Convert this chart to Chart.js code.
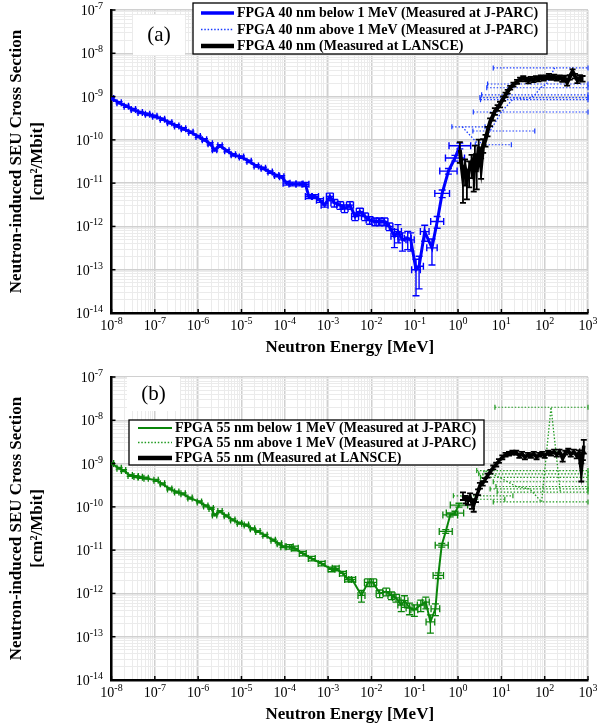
<!DOCTYPE html>
<html lang="en">
<head>
<meta charset="UTF-8" />
<title>Neutron-induced SEU Cross Section</title>
<script src="https://cdn.jsdelivr.net/npm/chart.js"></script>
<style>
  body { margin: 0; background: #fff; }
  .panel { width: 597px; height: 364px; }
</style>
</head>
<body>
<div class="panel"><canvas id="chartA" width="597" height="364"></canvas></div>
<div class="panel"><canvas id="chartB" width="597" height="364"></canvas></div>
<script>
// ---- axis text ----
const xTickExps = [-8, -7, -6, -5, -4, -3, -2, -1, 0, 1, 2, 3];
const yTickExps = [-14, -13, -12, -11, -10, -9, -8, -7];
const yTitle = ["Neutron-induced SEU Cross Section", "[cm\u00b2/Mbit]"];
const xTitle = "Neutron Energy [MeV]";

// ---- panel (a): FPGA 40 nm ----
const labelsA = [
  "FPGA 40 nm below 1 MeV (Measured at J-PARC)",
  "FPGA 40 nm above 1 MeV (Measured at J-PARC)",
  "FPGA 40 nm (Measured at LANSCE)",
];
// J-PARC below 1 MeV: energy [MeV], cross section, rel. y error, x half width [decades]
const a40LowE = [1e-8, 1.5e-8, 2.2e-8, 3.2e-8, 4.6e-8, 6.8e-8, 1e-7, 1.5e-7, 2.2e-7, 3.2e-7, 4.6e-7, 6.8e-7,
  1e-6, 1.4e-6, 1.9e-6, 2.4e-6, 3.2e-6, 4.6e-6, 6.5e-6, 1e-5, 1.5e-5, 2.2e-5, 3.2e-5, 4.6e-5, 6.5e-5, 8.5e-5,
  1.1e-4, 1.5e-4, 2.2e-4, 3.0e-4, 3.6e-4, 5.0e-4, 6.5e-4, 8.3e-4, 1.1e-3, 1.4e-3, 1.9e-3, 2.4e-3, 3.2e-3,
  4.2e-3, 5.4e-3, 7.1e-3, 9.1e-3, 1.2e-2, 1.55e-2, 2.0e-2, 2.6e-2, 3.4e-2, 4.1e-2, 5.2e-2, 6.9e-2, 8.1e-2,
  0.107, 0.126, 0.17, 0.25, 0.33, 0.43, 0.6, 0.85, 1.1];
const a40LowS = [9.0e-10, 7.2e-10, 6.0e-10, 5.0e-10, 4.3e-10, 3.9e-10, 3.5e-10, 3.0e-10, 2.5e-10, 2.1e-10, 1.8e-10, 1.5e-10,
  1.2e-10, 1.0e-10, 8.1e-11, 5.9e-11, 7.3e-11, 5.6e-11, 4.5e-11, 4.0e-11, 3.2e-11, 2.5e-11, 2.2e-11, 1.8e-11, 1.5e-11, 1.4e-11,
  1.0e-11, 9.6e-12, 9.6e-12, 9.4e-12, 4.9e-12, 4.9e-12, 4.0e-12, 3.1e-12, 4.9e-12, 3.5e-12, 3.1e-12, 2.6e-12, 3.1e-12,
  1.7e-12, 2.2e-12, 1.7e-12, 1.4e-12, 1.3e-12, 1.3e-12, 1.3e-12, 1.0e-12, 5.9e-13, 7.6e-13, 4.9e-13, 5.3e-13, 4.9e-13,
  1.0e-13, 1.2e-13, 7.6e-13, 3.2e-13, 1.3e-12, 5.8e-12, 1.9e-11, 3.8e-11, 7.3e-11];
const a40LowDY = [0.06, 0.06, 0.06, 0.06, 0.06, 0.06, 0.06, 0.06, 0.06, 0.06, 0.06, 0.06,
  0.06, 0.06, 0.06, 0.06, 0.06, 0.06, 0.06, 0.06, 0.06, 0.06, 0.06, 0.06, 0.06, 0.06,
  0.1, 0.1, 0.1, 0.1, 0.1, 0.1, 0.1, 0.1, 0.2, 0.2, 0.2, 0.2, 0.2,
  0.2, 0.2, 0.2, 0.2, 0.2, 0.2, 0.2, 0.2, 0.45, 0.45, 0.45, 0.45, 0.45,
  0.75, 0.7, 0.4, 0.6, 0.3, 0.2, 0.15, 0.15, 0.15];
const a40LowDX = [0.05, 0.05, 0.05, 0.05, 0.05, 0.05, 0.05, 0.05, 0.05, 0.05, 0.05, 0.05,
  0.05, 0.05, 0.05, 0.05, 0.05, 0.05, 0.05, 0.05, 0.05, 0.05, 0.05, 0.05, 0.05, 0.05,
  0.08, 0.08, 0.08, 0.08, 0.08, 0.08, 0.08, 0.08, 0.08, 0.08, 0.08, 0.08, 0.08,
  0.08, 0.08, 0.08, 0.08, 0.08, 0.08, 0.08, 0.08, 0.08, 0.08, 0.08, 0.08, 0.08,
  0.1, 0.1, 0.1, 0.12, 0.15, 0.17, 0.2, 0.22, 0.25];
// J-PARC above 1 MeV: energy, cross section, energy range
const a40MidE = [1.25, 3.0, 5.5, 10, 20, 40, 60, 80, 110, 170];
const a40MidS = [2.0e-10, 7.7e-11, 1.6e-10, 4.4e-10, 9.5e-10, 8.5e-10, 1.1e-9, 1.6e-9, 1.95e-9, 4.6e-9];
const a40MidLo = [0.72, 2.5, 2.2, 2.25, 3.2, 3.3, 3.5, 4.6, 4.8, 6.5];
const a40MidHi = [4.2, 17, 59, 1000, 1000, 1000, 1000, 1000, 1000, 1000];
// LANSCE
const a40HighE = [1.1, 1.3, 1.45, 1.6, 1.8, 2.05, 2.3, 2.45, 2.7, 3.0, 3.4, 3.8, 4.3, 4.8, 5.5, 6.3, 7.1, 8.2, 9.3,
  11, 12.5, 14, 16, 19, 23, 27, 32, 37, 42, 48, 55, 63, 72, 82, 95, 110, 125, 145, 165, 190, 220, 255, 290,
  330, 380, 440, 500, 570, 650, 750];
const a40HighS = [5.9e-11, 1.4e-11, 2.2e-11, 1.2e-11, 2.0e-11, 2.9e-11, 1.6e-11, 4.9e-11, 1.8e-11, 7.0e-11, 2.5e-11,
  7.7e-11, 1.0e-10, 1.6e-10, 2.6e-10, 3.5e-10, 4.6e-10, 5.5e-10, 6.6e-10, 9.0e-10, 1.1e-9, 1.3e-9, 1.6e-9, 1.9e-9,
  2.2e-9, 2.5e-9, 2.7e-9, 2.5e-9, 2.3e-9, 2.6e-9, 2.4e-9, 2.7e-9, 2.5e-9, 2.8e-9, 2.6e-9, 2.8e-9, 3.0e-9, 2.7e-9,
  2.9e-9, 2.6e-9, 2.8e-9, 2.5e-9, 2.7e-9, 2.1e-9, 2.8e-9, 3.8e-9, 3.0e-9, 2.4e-9, 2.7e-9, 2.6e-9];
const a40HighDY = [0.5, 0.75, 0.6, 0.65, 0.6, 0.55, 0.6, 0.5, 0.6, 0.45, 0.5, 0.35, 0.3, 0.25, 0.2, 0.2, 0.18, 0.15,
  0.15, 0.12, 0.12, 0.1, 0.1, 0.1, 0.1, 0.1, 0.1, 0.1, 0.12, 0.1, 0.1, 0.1, 0.1, 0.1, 0.1, 0.1, 0.12, 0.1,
  0.1, 0.1, 0.1, 0.12, 0.12, 0.15, 0.12, 0.12, 0.12, 0.15, 0.15, 0.15];

// ---- panel (b): FPGA 55 nm ----
const labelsB = [
  "FPGA 55 nm below 1 MeV (Measured at J-PARC)",
  "FPGA 55 nm above 1 MeV (Measured at J-PARC)",
  "FPGA 55 nm (Measured at LANSCE)",
];
const b55LowE = [1e-8, 1.5e-8, 1.9e-8, 2.7e-8, 3.7e-8, 4.6e-8, 6.3e-8, 1.07e-7, 1.5e-7, 2.2e-7, 3.2e-7, 4.5e-7, 6.5e-7,
  1.07e-6, 1.5e-6, 2.0e-6, 2.4e-6, 3.2e-6, 4.5e-6, 6.3e-6, 9e-6, 1.3e-5, 1.8e-5, 2.4e-5, 3.5e-5, 5.4e-5, 7.5e-5, 9.1e-5,
  1.3e-4, 1.7e-4, 2.6e-4, 4.2e-4, 7.1e-4, 1.2e-3, 1.5e-3, 2.2e-3, 2.9e-3, 3.6e-3, 5.9e-3, 8.3e-3, 1.1e-2, 1.55e-2,
  2.2e-2, 2.9e-2, 3.7e-2, 4.9e-2, 5.8e-2, 7.6e-2, 9.8e-2, 0.138, 0.18, 0.23, 0.3, 0.35, 0.42, 0.52, 0.66, 0.85, 1.05];
const b55LowS = [1.0e-9, 7.8e-10, 6.9e-10, 5.3e-10, 5.0e-10, 4.8e-10, 4.6e-10, 4.1e-10, 3.4e-10, 2.6e-10, 2.2e-10, 2.0e-10, 1.6e-10,
  1.3e-10, 1.05e-10, 9.2e-11, 6.5e-11, 7.8e-11, 6.2e-11, 5.0e-11, 4.2e-11, 3.8e-11, 3.1e-11, 2.7e-11, 2.2e-11, 1.7e-11, 1.4e-11, 1.2e-11,
  1.2e-11, 1.1e-11, 8.4e-12, 6.4e-12, 4.9e-12, 3.6e-12, 3.8e-12, 2.9e-12, 2.1e-12, 2.1e-12, 9e-13, 1.8e-12, 1.8e-12, 1.0e-12,
  1.1e-12, 9e-13, 7.9e-13, 5.4e-13, 6.8e-13, 4.6e-13, 4.2e-13, 5.4e-13, 6.3e-13, 2.2e-13, 4.4e-13, 2.6e-12, 1.3e-11, 2.7e-11, 6.5e-11, 7.2e-11, 1.1e-10];
const b55LowDY = [0.05, 0.05, 0.05, 0.05, 0.05, 0.05, 0.05, 0.05, 0.05, 0.05, 0.05, 0.05, 0.05,
  0.05, 0.05, 0.05, 0.05, 0.05, 0.05, 0.05, 0.05, 0.05, 0.05, 0.05, 0.05, 0.05, 0.05, 0.05,
  0.12, 0.12, 0.12, 0.12, 0.12, 0.12, 0.12, 0.12, 0.12, 0.12, 0.3, 0.2, 0.2, 0.2,
  0.2, 0.2, 0.2, 0.3, 0.3, 0.3, 0.3, 0.3, 0.3, 0.45, 0.3, 0.15, 0.1, 0.1, 0.1, 0.1, 0.1];
const b55LowDX = [0.05, 0.05, 0.05, 0.05, 0.05, 0.05, 0.05, 0.05, 0.05, 0.05, 0.05, 0.05, 0.05,
  0.05, 0.05, 0.05, 0.05, 0.05, 0.05, 0.05, 0.05, 0.05, 0.05, 0.05, 0.05, 0.05, 0.05, 0.05,
  0.08, 0.08, 0.08, 0.08, 0.08, 0.08, 0.08, 0.08, 0.08, 0.08, 0.08, 0.08, 0.08, 0.08,
  0.08, 0.08, 0.08, 0.08, 0.08, 0.08, 0.08, 0.08, 0.08, 0.1, 0.1, 0.12, 0.15, 0.15, 0.17, 0.2, 0.2];
const b55MidE = [1.2, 2.6, 4.0, 6.0, 9.0, 14, 22, 45, 85, 140, 230];
const b55MidS = [1.8e-10, 1.5e-10, 6.9e-10, 5.8e-10, 4.8e-10, 3.8e-10, 2.95e-10, 2.6e-10, 1.3e-10, 2.0e-8, 2.2e-10];
const b55MidLo = [0.78, 1.6, 2.7, 3.0, 3.3, 6.5, 7.5, 5.5, 6.5, 7.1, 8.0];
const b55MidHi = [18.5, 12, 1000, 1000, 1000, 1000, 1000, 1000, 1000, 1000, 1000];
const b55HighE = [1.3, 1.5, 1.7, 1.9, 2.1, 2.3, 2.6, 2.9, 3.2, 3.7, 4.2, 4.8, 5.6, 6.5, 7.6, 8.8, 10.5, 12.5, 15, 18,
  22, 26, 30, 35, 41, 48, 56, 65, 75, 88, 100, 120, 140, 165, 190, 220, 260, 300, 350, 400, 470, 550, 620, 700, 760, 800];
const b55HighS = [1.8e-10, 1.5e-10, 1.4e-10, 1.7e-10, 1.2e-10, 1.1e-10, 1.6e-10, 2.2e-10, 3.1e-10, 3.5e-10, 4.2e-10, 5.3e-10,
  6.5e-10, 8.2e-10, 9.5e-10, 1.15e-9, 1.4e-9, 1.6e-9, 1.7e-9, 1.8e-9, 1.8e-9, 1.5e-9, 1.7e-9, 1.4e-9, 1.6e-9, 1.5e-9,
  1.7e-9, 1.4e-9, 1.6e-9, 1.7e-9, 1.5e-9, 1.8e-9, 1.7e-9, 1.9e-9, 1.6e-9, 1.9e-9, 1.3e-9, 1.8e-9, 2.0e-9, 1.6e-9,
  1.9e-9, 1.5e-9, 1.8e-9, 7.0e-10, 1.5e-9, 2.6e-9];
const b55HighDY = [0.2, 0.2, 0.2, 0.2, 0.25, 0.3, 0.2, 0.15, 0.15, 0.12, 0.1, 0.1, 0.1, 0.1, 0.1, 0.1, 0.1, 0.1, 0.1, 0.1,
  0.1, 0.1, 0.1, 0.1, 0.1, 0.1, 0.1, 0.1, 0.1, 0.1, 0.1, 0.1, 0.1, 0.1, 0.1, 0.1, 0.15, 0.1, 0.1, 0.1,
  0.1, 0.12, 0.12, 0.45, 0.2, 0.35];

const SERIF = '"Liberation Serif", "Times New Roman", serif';

function pts(E, S) {
  return E.map((e, i) => ({ x: e, y: S[i] }));
}

function series(label, E, S, style, err) {
  return Object.assign(
    { label: label, data: pts(E, S), pointRadius: 0, pointHoverRadius: 0, tension: 0, fill: false },
    style,
    err
  );
}

// 1..9 x 10^n ticks so the minor grid matches the original
function logTicks(scale) {
  const lo = Math.round(Math.log10(scale.min));
  const hi = Math.round(Math.log10(scale.max));
  const ticks = [];
  for (let e = lo; e <= hi; e++) {
    for (let k = 1; k <= 9; k++) {
      if (e === hi && k > 1) break;
      ticks.push({ value: k * Math.pow(10, e), major: k === 1 });
    }
  }
  scale.ticks = ticks;
}

function line(ctx, x1, y1, x2, y2) {
  ctx.beginPath();
  ctx.moveTo(x1, y1);
  ctx.lineTo(x2, y2);
  ctx.stroke();
}

const errorBars = {
  id: "errorBars",
  afterDatasetDraw(chart, args) {
    const ds = chart.data.datasets[args.index];
    const xs = chart.scales.x;
    const ys = chart.scales.y;
    const ctx = chart.ctx;
    const area = chart.chartArea;
    const cap = ds.cap || 3;
    ctx.save();
    ctx.beginPath();
    ctx.rect(area.left, area.top - 3, area.right - area.left + 3, area.bottom - area.top + 3);
    ctx.clip();
    ctx.strokeStyle = ds.borderColor;
    ctx.lineWidth = ds.errWidth || 1;
    ds.data.forEach((p, i) => {
      const px = xs.getPixelForValue(p.x);
      const py = ys.getPixelForValue(p.y);
      let x1 = px, x2 = px;
      if (ds.xErr) {
        x1 = xs.getPixelForValue(p.x / Math.pow(10, ds.xErr[i]));
        x2 = xs.getPixelForValue(p.x * Math.pow(10, ds.xErr[i]));
      }
      if (ds.xLo) {
        x1 = xs.getPixelForValue(ds.xLo[i]);
        x2 = xs.getPixelForValue(ds.xHi[i]);
      }
      if (x2 - x1 > 1) {
        ctx.setLineDash(ds.borderDash || []);
        line(ctx, x1, py, x2, py);
        ctx.setLineDash([]);
        line(ctx, x1, py - cap, x1, py + cap);
        line(ctx, x2, py - cap, x2, py + cap);
      }
      if (ds.yErr) {
        const lo = Math.max(p.y * (1 - ds.yErr[i]), 1.2e-14);
        const y1 = ys.getPixelForValue(p.y * (1 + ds.yErr[i]));
        const y2 = ys.getPixelForValue(lo);
        line(ctx, px, y1, px, y2);
        line(ctx, px - cap, y1, px + cap, y1);
        line(ctx, px - cap, y2, px + cap, y2);
      }
    });
    ctx.restore();
  },
};

function drawPow(ctx, x, y, exp, align) {
  ctx.font = "14px " + SERIF;
  const w1 = ctx.measureText("10").width;
  ctx.font = "10px " + SERIF;
  const w2 = ctx.measureText(String(exp)).width;
  const total = w1 + w2;
  const start = align === "center" ? x - total / 2 : x - total;
  ctx.textAlign = "left";
  ctx.textBaseline = "alphabetic";
  ctx.font = "14px " + SERIF;
  ctx.fillText("10", start, y);
  ctx.font = "10px " + SERIF;
  ctx.fillText(String(exp), start + w1, y - 6);
}

const deco = {
  id: "deco",
  beforeDatasetsDraw(chart, args, opts) {
    const ctx = chart.ctx;
    const b = opts.tag;
    ctx.save();
    ctx.fillStyle = "#fff";
    ctx.fillRect(b.x, b.y, b.w, b.h);
    ctx.fillStyle = "#000";
    ctx.font = "21px " + SERIF;
    ctx.textAlign = "center";
    ctx.textBaseline = "middle";
    ctx.fillText(b.text, b.x + b.w / 2, b.y + b.h / 2);
    ctx.restore();
  },
  afterDraw(chart, args, opts) {
    const ctx = chart.ctx;
    const xs = chart.scales.x;
    const ys = chart.scales.y;
    const area = chart.chartArea;
    ctx.save();
    ctx.fillStyle = "#000";
    ctx.strokeStyle = "#000";
    ctx.lineWidth = 1.5;

    // tick labels and inward major ticks
    xTickExps.forEach((e) => {
      const px = xs.getPixelForValue(Math.pow(10, e));
      drawPow(ctx, px, area.bottom + 17, e, "center");
      line(ctx, px, area.bottom, px, area.bottom - 4);
    });
    yTickExps.forEach((e) => {
      const py = ys.getPixelForValue(Math.pow(10, e));
      drawPow(ctx, area.left - 8.5, py + 5, e, "right");
      line(ctx, area.left, py, area.left + 4, py);
    });

    // axis titles
    ctx.font = "bold 17px " + SERIF;
    ctx.textAlign = "center";
    ctx.textBaseline = "middle";
    ctx.fillText(xTitle, (area.left + area.right) / 2, area.bottom + 35);
    ctx.save();
    ctx.translate(0, (area.top + area.bottom) / 2);
    ctx.rotate(-Math.PI / 2);
    ctx.fillText(yTitle[0], 0, 17);
    ctx.fillText(yTitle[1], 0, 38);
    ctx.restore();

    // legend box
    const L = opts.legend;
    ctx.fillStyle = "#fff";
    ctx.fillRect(L.x, L.y, L.w, L.h);
    ctx.lineWidth = 1.3;
    ctx.strokeRect(L.x, L.y, L.w, L.h);
    chart.data.datasets.forEach((ds, i) => {
      const y = L.rows[i];
      ctx.strokeStyle = ds.borderColor;
      ctx.lineWidth = ds.legendWidth;
      ctx.setLineDash(ds.borderDash || []);
      line(ctx, L.x0, y, L.x1, y);
      ctx.setLineDash([]);
      ctx.fillStyle = "#000";
      ctx.font = "bold 14px " + SERIF;
      ctx.textAlign = "left";
      ctx.textBaseline = "middle";
      ctx.fillText(ds.label, L.tx, y + 0.5);
    });
    ctx.restore();
  },
};

function makeChart(id, datasets, top, xHeight, decoOpts) {
  return new Chart(document.getElementById(id), {
    type: "line",
    data: { datasets: datasets },
    options: {
      responsive: false,
      animation: false,
      devicePixelRatio: 1,
      layout: { padding: { left: 0, right: 9, top: top, bottom: 0 } },
      plugins: {
        legend: { display: false },
        tooltip: { enabled: false },
        deco: decoOpts,
      },
      scales: {
        x: {
          type: "logarithmic",
          min: 1e-8,
          max: 1e3,
          bounds: "data",
          afterBuildTicks: logTicks,
          afterFit: (s) => { s.height = xHeight; },
          ticks: { display: false },
          grid: {
            color: (c) => (c.tick && c.tick.major ? "#d0d0d0" : "#ebebeb"),
            lineWidth: (c) => (c.tick && c.tick.major ? 1.5 : 1),
            drawTicks: false,
          },
          border: { color: "#000", width: 2.5 },
        },
        y: {
          type: "logarithmic",
          min: 1e-14,
          max: 1e-7,
          bounds: "data",
          afterBuildTicks: logTicks,
          afterFit: (s) => { s.width = 111.5; },
          ticks: { display: false },
          grid: {
            color: (c) => (c.tick && c.tick.major ? "#d0d0d0" : "#ebebeb"),
            lineWidth: (c) => (c.tick && c.tick.major ? 1.5 : 1),
            drawTicks: false,
          },
          border: { color: "#000", width: 2.5 },
        },
      },
    },
    plugins: [errorBars, deco],
  });
}

makeChart("chartA", [
  series(labelsA[0], a40LowE, a40LowS,
    { borderColor: "#0000ff", borderWidth: 3, order: 1, errWidth: 1.4, cap: 3.5, legendWidth: 3.5 },
    { yErr: a40LowDY, xErr: a40LowDX }),
  series(labelsA[1], a40MidE, a40MidS,
    { borderColor: "#1a3cff", borderWidth: 1.3, borderDash: [1.5, 1.8], order: 2, errWidth: 1.2, cap: 2.5, legendWidth: 1.5 },
    { xLo: a40MidLo, xHi: a40MidHi }),
  series(labelsA[2], a40HighE, a40HighS,
    { borderColor: "#000000", borderWidth: 4, order: 0, errWidth: 1.8, cap: 3, legendWidth: 4.5 },
    { yErr: a40HighDY }),
], 10, 51, {
  tag: { x: 133, y: 15, w: 52, h: 40, text: "(a)" },
  legend: { x: 193, y: 3, w: 354, h: 51, rows: [13, 29.5, 46], x0: 201, x1: 234, tx: 237 },
});

makeChart("chartB", [
  series(labelsB[0], b55LowE, b55LowS,
    { borderColor: "#0a850a", borderWidth: 2, order: 1, errWidth: 1.3, cap: 3.5, legendWidth: 2.2 },
    { yErr: b55LowDY, xErr: b55LowDX }),
  series(labelsB[1], b55MidE, b55MidS,
    { borderColor: "#1f9a1f", borderWidth: 1.3, borderDash: [1.5, 1.8], order: 2, errWidth: 1.2, cap: 2.5, legendWidth: 1.5 },
    { xLo: b55MidLo, xHi: b55MidHi }),
  series(labelsB[2], b55HighE, b55HighS,
    { borderColor: "#000000", borderWidth: 3.5, order: 0, errWidth: 1.8, cap: 3, legendWidth: 4.5 },
    { yErr: b55HighDY }),
], 13, 48, {
  tag: { x: 127, y: 13, w: 53, h: 34, text: "(b)" },
  legend: { x: 129, y: 56, w: 355, h: 45, rows: [64, 78.5, 94], x0: 138, x1: 172, tx: 175 },
});
</script>
</body>
</html>
